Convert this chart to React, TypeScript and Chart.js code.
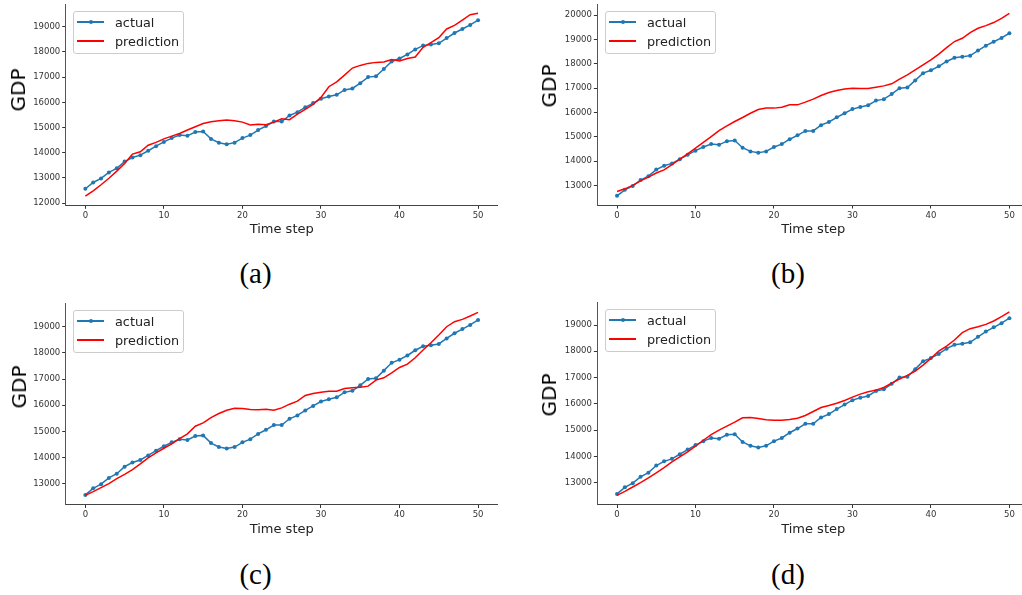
import React, { useEffect, useRef } from "react";
import { Chart, registerables } from "chart.js";

Chart.register(...registerables);
Chart.defaults.font.family = "'DejaVu Sans', sans-serif";

const TIME_STEPS = [
  0, 1, 2, 3, 4, 5, 6, 7, 8, 9, 10, 11, 12, 13, 14, 15, 16, 17, 18, 19, 20, 21, 22, 23, 24, 25,
  26, 27, 28, 29, 30, 31, 32, 33, 34, 35, 36, 37, 38, 39, 40, 41, 42, 43, 44, 45, 46, 47, 48, 49, 50,
];
const X_TICKS = [0, 10, 20, 30, 40, 50];

const ACTUAL = [
  12570, 12820, 12980, 13220, 13380, 13650, 13810, 13905, 14080, 14260, 14430, 14580, 14700, 14670,
  14820, 14845, 14550, 14400, 14340, 14400, 14580, 14700, 14900, 15060, 15240, 15240, 15480, 15610,
  15800, 15970, 16140, 16230, 16300, 16490, 16550, 16760, 17000, 17030, 17320, 17620, 17740, 17900,
  18100, 18250, 18290, 18340, 18550, 18750, 18910, 19070, 19260,
];

const PRED_A = [
  12278, 12490, 12730, 12990, 13270, 13575, 13945, 14040, 14300, 14410, 14550, 14660, 14765, 14900,
  15030, 15160, 15230, 15270, 15295, 15270, 15215, 15100, 15135, 15110, 15215, 15350, 15310, 15530,
  15720, 15915, 16195, 16620, 16815, 17080, 17360, 17465, 17545, 17585, 17600, 17700, 17640, 17740,
  17795, 18180, 18365, 18565, 18910, 19055, 19265, 19475, 19530,
];

const PRED_B = [
  12750, 12860, 13000, 13190, 13340, 13510, 13640, 13850, 14080, 14300, 14530, 14770, 15010, 15250,
  15450, 15630, 15795, 15970, 16120, 16180, 16180, 16220, 16315, 16315, 16425, 16550, 16700, 16820,
  16905, 16970, 17000, 16985, 16985, 17040, 17095, 17180, 17370, 17550, 17750, 17960, 18165, 18400,
  18670, 18920, 19055, 19290, 19465, 19575, 19700, 19875, 20080,
];

const PRED_C = [
  12553, 12694, 12847, 13000, 13190, 13357, 13536, 13753, 13983, 14175, 14353, 14520, 14723, 14902,
  15196, 15323, 15528, 15681, 15808, 15885, 15872, 15834, 15821, 15847, 15808, 15898, 16038, 16153,
  16370, 16447, 16498, 16536, 16536, 16638, 16664, 16690, 16728, 16958, 17047, 17238, 17443, 17570,
  17813, 18107, 18387, 18681, 19000, 19192, 19281, 19409, 19549,
];

const PRED_D = [
  12517, 12670, 12835, 13000, 13178, 13369, 13572, 13788, 13979, 14170, 14386, 14614, 14830, 14996,
  15148, 15300, 15466, 15479, 15440, 15390, 15377, 15377, 15402, 15453, 15555, 15708, 15860, 15936,
  16025, 16127, 16254, 16369, 16458, 16521, 16623, 16788, 16941, 17080, 17246, 17474, 17729, 18008,
  18199, 18428, 18707, 18860, 18936, 19025, 19152, 19318, 19496,
];

const Y_TICKS_A = [12000, 13000, 14000, 15000, 16000, 17000, 18000, 19000];
const Y_TICKS_B = [13000, 14000, 15000, 16000, 17000, 18000, 19000, 20000];
const Y_TICKS_C = [13000, 14000, 15000, 16000, 17000, 18000, 19000];
const Y_TICKS_D = [13000, 14000, 15000, 16000, 17000, 18000, 19000];

const SERIES_LABELS = ["actual", "prediction"];
const CAPTIONS = ["(a)", "(b)", "(c)", "(d)"];
const X_TITLE = "Time step";
const Y_TITLE = "GDP";

const BLUE = "#1f77b4";
const RED = "#ff0000";

type Box = {
  ox: number; oy: number; L: number; T: number; R: number; B: number;
  yMin: number; yMax: number; gdpX: number; gdpY: number; capX: number; capY: number;
};

const BOXES: Box[] = [
  { ox: 0, oy: 0, L: 65.7, T: 4.2, R: 497.7, B: 205.3, yMin: 11915, yMax: 19893, gdpX: 18.3, gdpY: 90, capX: 255.5, capY: 273 },
  { ox: 511, oy: 0, L: 597.4, T: 4.2, R: 1029, B: 205, yMin: 12194, yMax: 20456, gdpX: 549, gdpY: 86, capX: 788, capY: 273 },
  { ox: 0, oy: 290, L: 65.7, T: 303.2, R: 497.7, B: 504.5, yMin: 12203, yMax: 19899, gdpX: 19, gdpY: 387, capX: 255.5, capY: 574 },
  { ox: 511, oy: 290, L: 597.4, T: 302.8, R: 1029, B: 504.5, yMin: 12168, yMax: 19845, gdpX: 549, gdpY: 395, capX: 788, capY: 574 },
];

const PREDS = [PRED_A, PRED_B, PRED_C, PRED_D];
const YTICKS = [Y_TICKS_A, Y_TICKS_B, Y_TICKS_C, Y_TICKS_D];

function Panel({ idx }: { idx: number }) {
  const ref = useRef<HTMLCanvasElement | null>(null);
  const box = BOXES[idx];
  const W = Math.round(box.R + 13 - box.ox);
  const H = Math.round(box.B + 40 - box.oy);

  useEffect(() => {
    if (!ref.current) return;
    const yTicks = YTICKS[idx];
    const chart = new Chart(ref.current, {
      type: "line",
      data: {
        labels: TIME_STEPS,
        datasets: [
          {
            label: SERIES_LABELS[0],
            data: ACTUAL,
            borderColor: BLUE,
            backgroundColor: BLUE,
            borderWidth: 1.5,
            pointRadius: 2,
            pointBorderWidth: 0,
            pointHoverRadius: 2,
            tension: 0,
            fill: false,
            order: 1,
          },
          {
            label: SERIES_LABELS[1],
            data: PREDS[idx],
            borderColor: RED,
            backgroundColor: RED,
            borderWidth: 1.5,
            pointRadius: 0,
            pointHoverRadius: 0,
            tension: 0,
            fill: false,
            order: 0,
          },
        ],
      },
      options: {
        responsive: false,
        animation: false,
        devicePixelRatio: 1,
        events: [],
        layout: {
          padding: { left: 0, top: box.T - box.oy, right: W - (box.R - box.ox), bottom: 0 },
        },
        plugins: { legend: { display: false }, tooltip: { enabled: false } },
        scales: {
          x: {
            type: "linear",
            min: -2.5,
            max: 52.5,
            afterBuildTicks: (s: any) => {
              s.ticks = X_TICKS.map((v) => ({ value: v }));
            },
            afterFit: (s: any) => {
              s.height = H - (box.B - box.oy);
              s.paddingLeft = 0;
              s.paddingRight = 0;
            },
            ticks: {
              callback: (v: any) => String(v),
              font: { size: 8.5 },
              color: "#333",
              padding: 2,
              maxRotation: 0,
              autoSkip: false,
            },
            grid: {
              display: true,
              drawOnChartArea: false,
              drawTicks: true,
              tickLength: 3.5,
              tickColor: "#333",
              lineWidth: 1,
            },
            border: { display: true, color: "#444", width: 1 },
            title: {
              display: true,
              text: X_TITLE,
              font: { size: 13 },
              color: "#222",
              padding: { top: 0, bottom: 7.5 },
            },
          },
          y: {
            type: "linear",
            min: box.yMin,
            max: box.yMax,
            afterBuildTicks: (s: any) => {
              s.ticks = yTicks.map((v) => ({ value: v }));
            },
            afterFit: (s: any) => {
              s.width = box.L - box.ox;
              s.paddingTop = 0;
              s.paddingBottom = 0;
            },
            ticks: {
              callback: (v: any) => String(v),
              font: { size: 8.5 },
              color: "#333",
              padding: 2,
              autoSkip: false,
            },
            grid: {
              display: true,
              drawOnChartArea: false,
              drawTicks: true,
              tickLength: 3.5,
              tickColor: "#333",
              lineWidth: 1,
            },
            border: { display: true, color: "#555", width: 1 },
            title: { display: false },
          },
        },
      },
    } as any);
    return () => chart.destroy();
  }, [idx]);

  const legLeft = Math.round(box.L + 7.6);
  const legTop = Math.round(box.T + 6.5);

  return (
    <>
      <canvas
        ref={ref}
        width={W}
        height={H}
        style={{ position: "absolute", left: box.ox, top: box.oy, width: W, height: H, display: "block" }}
      />
      <div
        style={{
          position: "absolute",
          left: box.gdpX,
          top: box.gdpY,
          transform: "translate(-50%, -50%) rotate(-90deg)",
          fontFamily: "'DejaVu Sans', sans-serif",
          fontSize: 20,
          lineHeight: "20px",
          color: "#000",
          whiteSpace: "nowrap",
        }}
      >
        {Y_TITLE}
      </div>
      <div
        style={{
          position: "absolute",
          left: legLeft,
          top: legTop,
          width: 111,
          height: 43,
          boxSizing: "border-box",
          border: "1px solid #cccccc",
          borderRadius: 3,
          background: "rgba(255,255,255,0.8)",
          fontFamily: "'DejaVu Sans', sans-serif",
          fontSize: 12.8,
          color: "#222",
        }}
      >
        {SERIES_LABELS.map((lab, i) => {
          const cy = i === 0 ? 10 : 29;
          const col = i === 0 ? BLUE : RED;
          return (
            <React.Fragment key={lab}>
              <div
                style={{
                  position: "absolute",
                  left: 3,
                  top: cy - 1,
                  width: 27,
                  height: 2,
                  background: col,
                }}
              />
              {i === 0 && (
                <div
                  style={{
                    position: "absolute",
                    left: 15,
                    top: cy - 2,
                    width: 4,
                    height: 4,
                    borderRadius: 2,
                    background: col,
                  }}
                />
              )}
              <div
                style={{
                  position: "absolute",
                  left: 41,
                  top: cy,
                  transform: "translateY(-50%)",
                  whiteSpace: "nowrap",
                  lineHeight: "15px",
                }}
              >
                {lab}
              </div>
            </React.Fragment>
          );
        })}
      </div>
      <div
        style={{
          position: "absolute",
          left: box.capX,
          top: box.capY,
          transform: "translate(-50%, -50%)",
          fontFamily: "'Liberation Serif', 'Times New Roman', serif",
          fontSize: 29,
          lineHeight: "32px",
          color: "#000",
          whiteSpace: "nowrap",
        }}
      >
        {CAPTIONS[idx]}
      </div>
    </>
  );
}

export default function App() {
  return (
    <div
      style={{
        position: "absolute",
        left: 0,
        top: 0,
        width: 1022,
        height: 595,
        overflow: "hidden",
        background: "#fff",
      }}
    >
      {[0, 1, 2, 3].map((i) => (
        <Panel key={i} idx={i} />
      ))}
    </div>
  );
}
